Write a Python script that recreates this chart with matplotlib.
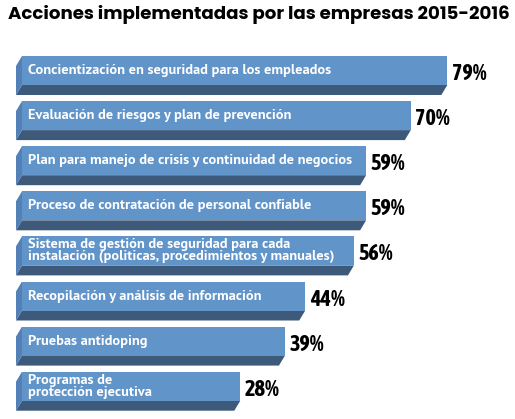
import matplotlib
matplotlib.use('Agg')
import matplotlib.pyplot as plt
from matplotlib.patches import Polygon

# --- data ---
acciones = [
    'Concientización en seguridad para los empleados',
    'Evaluación de riesgos y plan de prevención',
    'Plan para manejo de crisis y continuidad de negocios',
    'Proceso de contratación de personal confiable',
    'Sistema de gestión de seguridad para cada\ninstalación (politicas, procedimientos y manuales)',
    'Recopilación y análisis de información',
    'Pruebas antidoping',
    'Programas de\nprotección ejecutiva',
]
porcentajes = [79, 70, 59, 59, 56, 44, 39, 28]

titulo = 'Acciones implementadas por las empresas 2015-2016'

# colours
FRONT = '#6194c9'
SIDE = '#5380b6'
BOTTOM = '#3d5a7b'

LABEL_FONT = ['PT Sans', 'Asap', 'Open Sans']
PCT_FONT = ['Asap Condensed', 'DejaVu Sans']
TITLE_FONT = ['Poppins', 'Lato', 'DejaVu Sans']

W, H = 515, 419
fig = plt.figure(figsize=(W / 100, H / 100), dpi=100)
ax = fig.add_axes([0, 0, 1, 1])

# x in percent units, y in pixels (top down)
px_per_pct = 4.06
zero_px = 126.6
ax.set_xlim(-zero_px / px_per_pct, (W - zero_px) / px_per_pct)
ax.set_ylim(H, 0)
ax.axis('off')

start = (22 - zero_px) / px_per_pct   # left edge of the front face
dx = 6 / px_per_pct                    # depth, horizontal
dy = 10                                # depth, vertical (px)
face_h = 29
pitch = 45.1
top0 = 56

for i, (txt, v) in enumerate(zip(acciones, porcentajes)):
    t = top0 + pitch * i
    b = t + face_h
    # bottom face
    ax.add_patch(Polygon([(start, b), (v, b), (v - dx, b + dy), (start - dx, b + dy)],
                         closed=True, fc=BOTTOM, ec='none'))
    # left face
    ax.add_patch(Polygon([(start, t), (start, b), (start - dx, b + dy), (start - dx, t + dy)],
                         closed=True, fc=SIDE, ec='none'))
    # front face
    ax.add_patch(Polygon([(start, t), (v, t), (v, b), (start, b)],
                         closed=True, fc=FRONT, ec='none'))

    ax.text(start + 6 / px_per_pct, (t + b) / 2, txt, color='white',
            fontsize=10.4, fontweight='bold', family=LABEL_FONT,
            va='center', ha='left', linespacing=0.9)
    ax.text(v + 4.5 / px_per_pct, t + 18, f'{v}%', color='black',
            fontsize=16, fontweight=700, family=PCT_FONT,
            va='center', ha='left')

fig.text(8 / W, 1 - 15 / H, titulo, fontsize=13.1, fontweight='bold',
         family=TITLE_FONT, va='center', ha='left', color='black')

fig.savefig('out.png', dpi=100)
